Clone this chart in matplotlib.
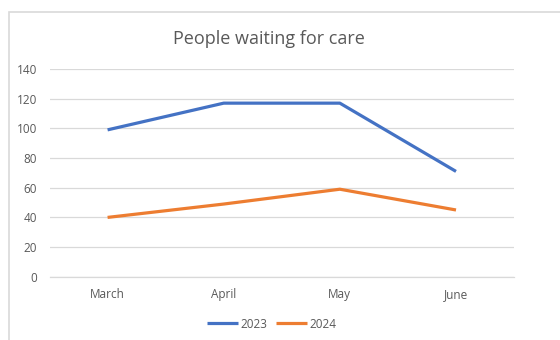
import matplotlib.pyplot as plt
from matplotlib.patches import Rectangle

# monthly counts of people waiting for care
months = ['March', 'April', 'May', 'June']
waiting_2023 = [99, 117, 117, 71]
waiting_2024 = [40, 49, 59, 45]
y_ticks = [0, 20, 40, 60, 80, 100, 120, 140]

text_grey = '#595959'
grid_grey = '#d9d9d9'
plt.rcParams['font.family'] = ['Open Sans', 'DejaVu Sans']

fig = plt.figure(figsize=(5.6, 3.4), dpi=100)
ax = fig.add_axes([0.0884, 0.186, 0.8296, 0.611])

# outer chart frame, running off the right and bottom edges
fig.patches.append(Rectangle((9 / 560, -0.05), 1.2, 1 - 12 / 340 + 0.05,
                             transform=fig.transFigure, fill=False,
                             edgecolor=grid_grey, linewidth=1.2))

x = range(len(months))
ax.plot(x, waiting_2023, color='#4472C4', linewidth=2.3, label='2023',
        solid_capstyle='butt')
ax.plot(x, waiting_2024, color='#ED7D31', linewidth=2.3, label='2024',
        solid_capstyle='butt')

ax.set_xlim(-0.5, len(months) - 0.5)
ax.set_ylim(0, 140)
ax.set_yticks(y_ticks)
ax.set_xticks(list(x))
ax.set_xticklabels(months)
ax.grid(axis='y', color=grid_grey, linewidth=0.9)
ax.set_axisbelow(True)
for side in ['top', 'right', 'left']:
    ax.spines[side].set_visible(False)
ax.spines['bottom'].set_color(grid_grey)
ax.spines['bottom'].set_linewidth(0.9)
ax.tick_params(length=0, labelsize=8.5, colors=text_grey)
ax.tick_params(axis='y', pad=9)
ax.tick_params(axis='x', pad=8)

fig.text(0.481, 0.885, 'People waiting for care', ha='center', va='center',
         fontsize=13, color=text_grey)

fig.legend(loc='center', bbox_to_anchor=(0.485, 0.047), ncol=2, frameon=False,
           fontsize=8.5, labelcolor=text_grey, handlelength=2.6,
           handletextpad=0.2, columnspacing=0.8)

fig.savefig('out.png', dpi=100, facecolor='white')
